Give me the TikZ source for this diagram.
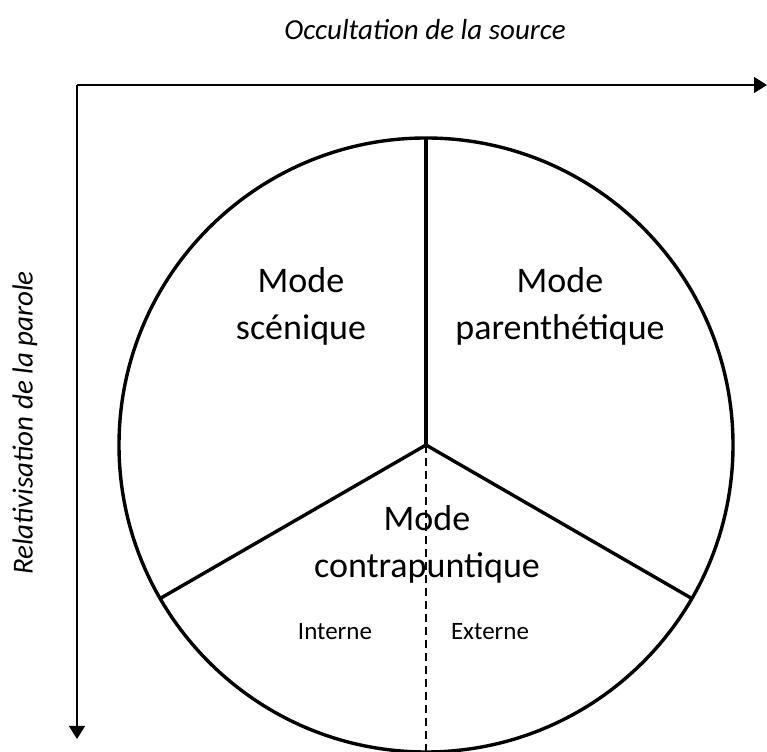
\documentclass[tikz,border=0pt]{standalone}
\usepackage{fontspec}
\setmainfont{Carlito}
\usetikzlibrary{arrows.meta,calc}
\def\rad{307}
\tikzset{
  axislabel/.style={
    inner sep=0pt,
    font=\fontsize{29}{35}\selectfont\itshape
  }
}
\tikzset{
  modelabel/.style={
    align=center,
    inner sep=0pt,
    font=\fontsize{36}{47}\selectfont
  },
  sublabel/.style={
    inner sep=0pt,
    font=\fontsize{25}{30}\selectfont
  },
  axis/.style={
    ->, line width=1.3pt,
    >={Triangle[length=13pt, width=16pt]}
  },
  part/.style={line width=3.4pt},
  split/.style={line width=2.3pt, dash pattern=on 8pt off 5pt},
}
\begin{document}
\begin{tikzpicture}[x=1pt, y=1pt]
    \useasboundingbox (0,0) rectangle (767,751);

    %% Axes
    \coordinate (corner) at (77,666);
    \coordinate (xend) at (767,666);
    \coordinate (yend) at (77,12);
    \draw[axis] (corner) -- (xend);
    \draw[axis] (corner) -- (yend);
    \node[axislabel] (occult) at (425,721) {Occultation de la source};
    \node[axislabel, rotate=90] (relat) at (25,328) {Relativisation de la parole};

    %% Circle and its parts
    \coordinate (c) at (426,306);
    \coordinate (ctop) at ($ (c) + (90:\rad) $);
    \coordinate (cleft) at ($ (c) + (210:\rad) $);
    \coordinate (cright) at ($ (c) + (330:\rad) $);
    \coordinate (cbottom) at ($ (c) + (270:\rad) $);
    \draw[part] (c) circle (\rad);
    \draw[part] (c) -- (ctop);
    \draw[part] (c) -- (cleft);
    \draw[part] (c) -- (cright);
    \draw[split] (c) -- (cbottom);

    %% Modes
    \node[modelabel] (scen) at (301,445) {Mode\\scénique};
    \node[modelabel] (paren) at (560,445) {Mode\\parenthétique};
    \node[modelabel] (contra) at (427,207) {Mode\\contrapuntique};
    \node[sublabel] (intern) at (335,119) {Interne};
    \node[sublabel] (extern) at (490,119) {Externe};
\end{tikzpicture}
\end{document}
